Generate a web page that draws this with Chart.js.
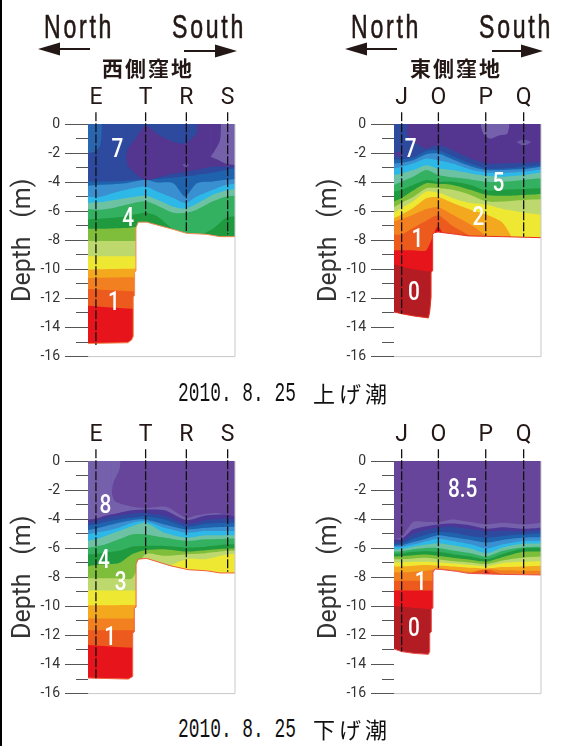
<!DOCTYPE html>
<html lang="ja">
<head>
<meta charset="utf-8">
<title>2010.8.25</title>
<script src="https://cdn.jsdelivr.net/npm/chart.js@4/dist/chart.umd.min.js"></script>
<style>
    html, body { margin: 0; padding: 0; background: #fff; }
    #page { position: relative; width: 561px; height: 746px; overflow: hidden; background: #fff; }
    #page canvas { position: absolute; }
    #edge { position: absolute; left: 0; top: 0; width: 2px; height: 746px; background: #000; }
    .dir { position: absolute; top: 7px; font: 34px "Liberation Sans", sans-serif; letter-spacing: 4px; color: #231815; -webkit-text-stroke: 0.6px #231815; white-space: pre; transform: scaleX(0.68); transform-origin: left center; }
    .basin { position: absolute; top: 52px; font: 700 21px "Noto Sans CJK JP", sans-serif; letter-spacing: 2px; color: #231815; white-space: pre; }
    .date { position: absolute; left: 178px; font: 27px "Liberation Mono", monospace; color: #111; white-space: pre; transform: scaleX(0.662); transform-origin: left center; }
    .tide { position: absolute; left: 313px; font: 22px "Noto Sans CJK JP", sans-serif; letter-spacing: 4px; color: #111; white-space: pre; }
    svg { position: absolute; left: 0; top: 0; }
</style>
</head>
<body>
<div id="page">
    <div id="edge"></div>
    <canvas id="westFlood" width="255" height="370" style="left:0;top:0"></canvas>
    <canvas id="eastFlood" width="255" height="370" style="left:306px;top:0"></canvas>
    <canvas id="westEbb" width="255" height="370" style="left:0;top:337px"></canvas>
    <canvas id="eastEbb" width="255" height="370" style="left:306px;top:337px"></canvas>
    <div class="dir" style="left:44px">North</div>
    <div class="dir" style="left:172px">South</div>
    <div class="dir" style="left:351px">North</div>
    <div class="dir" style="left:479px">South</div>
    <div class="basin" style="left:102px">西側窪地</div>
    <div class="basin" style="left:410px">東側窪地</div>
    <div class="date" style="top:379px">2010. 8. 25</div>
    <div class="tide" style="top:376px">上げ潮</div>
    <div class="date" style="top:715px">2010. 8. 25</div>
    <div class="tide" style="top:712px">下げ潮</div>
    <svg width="561" height="80" fill="#231815" stroke="#231815">
        <path d="M56 49H90" stroke-width="2"/><path d="M38 49L60 42.5V55.5Z" stroke="none"/>
        <path d="M184 51H220" stroke-width="2"/><path d="M237 51L215 44.5V57.5Z" stroke="none"/>
        <path d="M363 49H397" stroke-width="2"/><path d="M345 49L367 42.5V55.5Z" stroke="none"/>
        <path d="M492 51H528" stroke-width="2"/><path d="M543 51L521 44.5V57.5Z" stroke="none"/>
    </svg>
</div>
<script>
// colours of the salinity bands
const dkRed = '#b41c24', red = '#e8141c', orRed = '#ec5a1e', orange = '#f28020', ltOrange = '#f4a81e';
const yellow = '#efe832', yelGreen = '#bdd96e', green = '#7fbe3a', dkGreen = '#1f9a3e', medGreen = '#33b060';
const teal = '#6dc2a4', cyan = '#2db8e8', blue = '#3a8fd0', midBlue = '#1f62ae', navy = '#2d4a9e';
const indigo = '#4c3796', purple = '#54358f', violet = '#66459a', ltViolet = '#7460ab', oval = '#6a55a5';

const westStations = ['E', 'T', 'R', 'S'];
const westStationX = [5.4, 39.2, 66.9, 95];
const eastStations = ['J', 'O', 'P', 'Q'];
const eastStationX = [5.2, 30.2, 62.4, 88.2];
const bottomLine = [-16, -16];
const endX = [0, 100];

// west basin, flood tide
const p1X = [0, 8, 17, 26, 39, 47, 58, 66, 74, 85, 94, 100];
const p1DeepX = [0, 30, 100];
const p1OrRed = [-12.5, -12.7, -12.7];
const p1Orange = [-11.35, -11.5, -11.5];
const p1LtOrange = [-10.6, -10.55, -10.55];
const p1Yellow = [-10, -9.95, -9.95];
const p1YelGreen = [-9.1, -9.1, -9.1];
const p1Green = [-8.05, -8.05, -8.05];
const p1DkGreen = [-7.2, -7.2, -7.18, -7.15, -7.15, -9, -9, -9, -9, -9, -9, -9];
const p1MedGreen = [-6.57, -6.52, -6.45, -6.34, -6.1, -6.34, -7.25, -7.6, -7.7, -7.2, -6.45, -6.34];
const p1Teal = [-5.84, -5.89, -5.77, -5.55, -5.32, -5.61, -6.11, -6.11, -5.89, -5.32, -4.98, -4.93];
const p1Cyan = [-5.43, -5.39, -5.25, -5.09, -4.93, -5.2, -5.7, -5.82, -5.48, -4.86, -4.57, -4.48];
const p1Blue = [-4.98, -5.02, -4.75, -4.52, -4.3, -4.64, -5.09, -5.43, -4.98, -4.52, -4.18, -4.11];
const p1MidBlue = [-4.25, -4.18, -4.14, -4.07, -3.84, -4.02, -4.07, -4.98, -4.07, -3.95, -3.84, -3.8];
const p1Navy = [-3.95, -3.95, -3.95, -3.9, -3.84, -3.77, -3.68, -3.61, -3.5, -3.34, -3.16, -3.05];
const p1CornerX = [0, 4.8, 8, 9.3, 9.4];
const p1Corner = [-2, -1.9, -1.55, -0.7, 0];
const p1PurpleX = [25.9, 27.4, 39.2, 53.5, 76.2, 85.3, 100];
const p1Purple = [-2.25, -2.93, -3.84, -3.5, -3.11, -2.93, -2.93];
const p1DomeX = [25.9, 27.4, 33.1, 39.2, 46.7, 58, 66, 73.9, 74.5];
const p1Dome = [-2.25, -1.68, -0.89, -0.09, -0.66, -1.23, -1.34, -0.66, 0];
const p1PaleX = [83.4, 87.5, 94.3, 100];
const p1Pale = [-2.25, -2.43, -2.75, -2.82];
const p1PaleEdgeX = [83.4, 86.4, 89.8, 90.5];
const p1PaleEdge = [-2.25, -1.8, -1.11, 0];
const p1OvalX = [64, 66.5, 69];
const p1OvalTop = [-2.82, -2.7, -2.82];
const p1OvalBottom = [-2.82, -2.95, -2.82];
const p1FloorX = [0, 27, 29.7, 30.8, 30.8, 31.7, 31.7, 32.6, 32.6, 34.2, 39.9, 58, 67, 80.7, 89.8, 100];
const p1Floor = [-15.1, -15.05, -14.86, -14.6, -11.9, -11.8, -10.2, -10.1, -7.14, -6.75, -6.75, -7.25, -7.52, -7.59, -7.75, -7.75];
const p1StationEnd = [-15.2, -6.3, -7.36, -7.59];
const p1LabelText = ['7', '4', '1'];
const p1LabelX = [20, 27.4, 17.7];
const p1LabelY = [-1.84, -6.57, -12.36];

// east basin, flood tide
const p2X = [0, 5, 13, 22, 30, 40, 52, 63, 74, 88, 100];
const p2DeepX = [0, 13, 26, 100];
const p2Red = [-9.64, -9.98, -10.16, -10.2];
const p2OrRed = [-8.68, -8.68, -8.68, -8.68, -7.05, -9, -9, -9, -9, -9, -9];
const p2Orange = [-7.6, -7.6, -7.15, -6.65, -6.28, -7.03, -7.72, -9, -9, -9, -9];
const p2LtOrange = [-6.69, -6.53, -6.24, -5.85, -5.72, -6.24, -6.92, -7.75, -9, -9, -9];
const p2Yellow = [-6.47, -6.24, -5.78, -5.1, -5.03, -5.44, -5.9, -6.24, -6.81, -9, -9];
const p2YelGreen = [-6.13, -5.78, -5.33, -4.65, -4.72, -5.1, -5.44, -5.56, -5.85, -6.08, -6.24];
const p2Green = [-5.72, -5.44, -5.03, -4.42, -4.42, -4.53, -4.88, -5.33, -5.33, -5.22, -5.17];
const p2DkGreen = [-5.33, -5.1, -4.58, -4.08, -4.13, -4.19, -4.53, -4.88, -4.94, -4.88, -4.81];
const p2MedGreen = [-4.65, -4.53, -4.19, -3.85, -3.97, -3.97, -4.19, -4.58, -4.53, -4.47, -4.42];
const p2Teal = [-4.19, -3.97, -3.63, -3.17, -3.51, -3.67, -3.81, -3.97, -3.97, -3.85, -3.74];
const p2Cyan = [-3.51, -3.4, -3.17, -2.83, -3.06, -3.17, -3.4, -3.56, -3.63, -3.51, -3.33];
const p2Blue = [-3.06, -2.94, -2.72, -2.38, -2.49, -2.72, -3.13, -3.33, -3.35, -3.28, -3.13];
const p2MidBlue = [-2.72, -2.67, -2.49, -2.08, -2.03, -2.44, -2.9, -3.17, -3.17, -3.1, -2.94];
const p2Navy = [-2.44, -2.44, -2.31, -1.85, -1.81, -2.22, -2.72, -3.06, -3.06, -2.94, -2.83];
const p2PurpleX = [8.6, 10.9, 15.4, 22, 30, 40, 52, 63, 74, 88, 100];
const p2Purple = [-0.67, -1.01, -1.35, -1.69, -1.47, -1.81, -2.38, -2.72, -2.72, -2.67, -2.6];
const p2PaleX = [59, 60.8, 65.3, 72, 77, 78.5];
const p2Pale = [-0.1, -0.67, -1.01, -0.78, -0.67, -0.1];
const p2SliverX = [0, 3, 6];
const p2SliverTop = [-2, -1.9, -2.1];
const p2SliverBottom = [-2, -2.25, -2.1];
const p2OvalX = [83, 88.4, 93.7];
const p2OvalTop = [-1.24, -1.08, -1.24];
const p2OvalBottom = [-1.24, -1.47, -1.24];
const p2FloorX = [0, 5.2, 13.2, 23.4, 24.3, 25.2, 25.2, 26.3, 26.3, 27.2, 30, 42.6, 50.6, 74, 100];
const p2Floor = [-12.93, -13.05, -13.2, -13.34, -12.9, -11.9, -10.2, -10.1, -7.6, -7.48, -7.43, -7.59, -7.7, -7.75, -7.82];
const p2StationEnd = [-13.05, -7.36, -7.7, -7.75];
const p2LabelText = ['7', '5', '2', '1', '0'];
const p2LabelX = [11.3, 71, 57.4, 15.9, 13.6];
const p2LabelY = [-1.84, -4.18, -6.52, -7.98, -11.68];

// west basin, ebb tide
const p3X = [0, 5, 12, 21, 30, 39, 52, 67, 80, 95, 100];
const p3DeepX = [0, 30, 100];
const p3OrRed = [-12.66, -12.85, -12.85];
const p3Orange = [-11.64, -11.64, -11.64];
const p3LtOrange = [-10.84, -10.84, -10.84];
const p3Yellow = [-9.93, -9.9, -9.9];
const p3YelGreen = [-8.91, -8.91, -8.91, -8.91, -8.91, -8.8, -7.43, -6.75, -6.75, -6.41, -6.41];
const p3Green = [-8.07, -8.07, -8.07, -8.07, -8.07, -6.41, -6.52, -6.41, -6.34, -6.18, -6.18];
const p3DkGreen = [-7.25, -7.16, -7.11, -7.02, -6.41, -6.14, -6.07, -6.23, -6.14, -6.02, -6.02];
const p3MedGreen = [-6.41, -6.41, -6.3, -6.18, -5.89, -5.84, -5.84, -5.95, -5.89, -5.73, -5.73];
const p3Teal = [-5.95, -5.89, -5.73, -5.39, -5.05, -5.05, -5.27, -5.5, -5.39, -5.34, -5.34];
const p3Cyan = [-5.5, -5.39, -5.16, -4.82, -4.48, -4.25, -4.93, -5.27, -5.11, -5.11, -5.11];
const p3Blue = [-5.05, -4.93, -4.82, -4.59, -4.25, -4.14, -4.59, -4.93, -4.82, -4.82, -4.82];
const p3MidBlue = [-4.75, -4.66, -4.48, -4.25, -4.07, -4.02, -4.36, -4.7, -4.59, -4.52, -4.52];
const p3Navy = [-4.43, -4.36, -4.18, -4.02, -3.91, -3.8, -4.02, -4.52, -4.32, -4.25, -4.25];
const p3Indigo = [-4.25, -4.14, -3.91, -3.75, -3.61, -3.57, -3.75, -4.32, -4.07, -3.98, -4.02];
const p3Pale = [-4.02, -3.98, -3.75, -3.57, -3.39, -3.34, -3.39, -4.07, -3.75, -3.68, -3.75];
const p3VioletX = [16.1, 18.4, 28.6, 39.2, 53.5, 66.9, 73.9, 87.5, 100];
const p3Violet = [-2.2, -2.77, -3.11, -3.23, -3.16, -3.91, -3.73, -3.57, -3.8];
const p3PaleEdgeX = [16.1, 17.2, 21.3, 22.2];
const p3PaleEdge = [-2.2, -1.52, -0.61, 0];
const p3FloorX = [0, 27.4, 30.4, 30.4, 31.5, 31.5, 32.7, 32.7, 34.2, 39.9, 55.8, 68.3, 80.7, 89.8, 100];
const p3Floor = [-14.93, -15, -14.82, -11.86, -11.75, -10.11, -10.05, -7.09, -6.75, -6.7, -7.2, -7.48, -7.55, -7.7, -7.7];
const p3StationEnd = [-15, -6.41, -7.36, -7.61];
const p3LabelText = ['8', '4', '3', '1'];
const p3LabelX = [11.8, 10.9, 22.2, 15];
const p3LabelY = [-3.11, -6.91, -8.45, -12.2];

// east basin, ebb tide
const p4X = [0, 5, 13, 22, 30, 40, 52, 63, 74, 88, 100];
const p4DeepX = [0, 13, 26, 100];
const p4Red = [-9.98, -10.1, -10.2, -10.2];
const p4OrRed = [-8.91, -8.91, -8.91, -8.91, -8.91, -9.02, -9.02, -7.59, -9.02, -9.02, -9.02];
const p4Orange = [-8.23, -8.23, -8.23, -8.23, -8.23, -8.23, -7.73, -7.48, -7.82, -8.57, -8.57];
const p4LtOrange = [-7.66, -7.66, -7.61, -7.55, -7.39, -7.48, -7.61, -7.43, -7.52, -7.55, -7.55];
const p4Yellow = [-7.25, -7.25, -7.2, -7.16, -7.2, -7.25, -7.34, -7.39, -7.3, -7.25, -7.2];
const p4YelGreen = [-6.98, -6.98, -6.93, -6.93, -6.98, -7.05, -7.16, -7.25, -7.02, -6.93, -6.89];
const p4Green = [-6.75, -6.75, -6.7, -6.66, -6.75, -6.89, -6.98, -7.09, -6.84, -6.64, -6.57];
const p4DkGreen = [-6.57, -6.55, -6.48, -6.43, -6.52, -6.66, -6.8, -6.93, -6.61, -6.25, -6.23];
const p4MedGreen = [-6.39, -6.36, -6.25, -6.2, -6.25, -6.41, -6.57, -6.75, -6.39, -6.02, -5.98];
const p4Teal = [-6.23, -6.2, -6.07, -5.98, -5.98, -6.16, -6.34, -6.57, -6.18, -5.93, -5.89];
const p4Cyan = [-6.07, -6.05, -5.89, -5.75, -5.66, -5.8, -6.02, -6.34, -5.95, -5.7, -5.68];
const p4Blue = [-5.93, -5.91, -5.75, -5.52, -5.34, -5.5, -5.73, -6.02, -5.73, -5.5, -5.48];
const p4MidBlue = [-5.84, -5.8, -5.57, -5.34, -5.11, -5.25, -5.43, -5.61, -5.43, -5.27, -5.25];
const p4Navy = [-5.75, -5.7, -5.34, -5.07, -4.89, -4.93, -5.16, -5.27, -5.16, -5.02, -4.98];
const p4Indigo = [-5.57, -5.52, -5.02, -4.75, -4.59, -4.52, -4.7, -4.84, -4.8, -4.84, -4.75];
const p4Pale = [-5.39, -5.39, -4.7, -4.48, -4.36, -4.3, -4.43, -4.66, -4.55, -4.66, -4.59];
const p4Violet = [-5.34, -5.27, -4.2, -4.2, -4.2, -4.02, -4.2, -4.36, -4.25, -4.36, -4.25];
const p4FloorX = [0, 5.2, 13.2, 23.4, 24.3, 24.3, 25.4, 25.4, 26.5, 26.5, 27.9, 33.6, 42.6, 50.6, 74, 100];
const p4Floor = [-12.93, -13.11, -13.23, -13.3, -13.1, -11.86, -11.75, -10.2, -10.11, -7.66, -7.43, -7.48, -7.59, -7.73, -7.8, -7.84];
const p4StationEnd = [-13.1, -7.43, -7.7, -7.77];
const p4LabelText = ['8.5', '1', '0'];
const p4LabelX = [46.7, 18.1, 13.6];
const p4LabelY = [-2.05, -8.45, -11.57];

function toPoints(xs, ys) {
    return xs.map((x, i) => ({ x: x, y: ys[i] }));
}

// every band fills from its lower edge up to the surface, deepest first
function band(xs, ys, color) {
    return { data: toPoints(xs, ys), fill: 'end', backgroundColor: color, borderWidth: 0, pointRadius: 0, tension: 0.25 };
}

function lens(xs, top, bottom, color) {
    return [
        { data: toPoints(xs, top), fill: '+1', backgroundColor: color, borderWidth: 0, pointRadius: 0, tension: 0.4 },
        { data: toPoints(xs, bottom), fill: false, borderWidth: 0, pointRadius: 0, tension: 0.4 }
    ];
}

function createPanel(id, opts) {
    const stationSets = opts.stationX.map((x, i) => ({
        data: [{ x: x, y: 0.8 }, { x: x, y: opts.stationEnd[i] }],
        fill: false, borderColor: '#111', borderWidth: 1.3, borderDash: [9, 2], pointRadius: 0, clip: false
    }));
    const datasets = [
        ...opts.bands,
        // white ground below the sea floor, with its thin outline
        { data: toPoints(opts.floorX, opts.floor), fill: 'start', backgroundColor: '#fff', borderColor: opts.floorColor, borderWidth: 1, pointRadius: 0, tension: 0 },
        { data: toPoints([0, 100, 100], [-16, -16, 0]), fill: false, borderColor: '#c9c9c9', borderWidth: 1, pointRadius: 0, clip: false },
        ...stationSets
    ];
    datasets.forEach((d, i) => { d.order = datasets.length - i; });

    const valueLabels = {
        id: 'valueLabels',
        afterDatasetsDraw(chart) {
            const { ctx, scales } = chart;
            ctx.fillStyle = '#fff';
            ctx.font = '500 26px Roboto, sans-serif';
            ctx.textAlign = 'center';
            ctx.textBaseline = 'middle';
            opts.labelText.forEach((t, i) => {
                ctx.save();
                ctx.translate(scales.x.getPixelForValue(opts.labelX[i]), scales.y.getPixelForValue(opts.labelY[i]));
                ctx.scale(0.8, 1);
                ctx.fillText(t, 0, 0);
                ctx.restore();
            });
        }
    };

    return new Chart(document.getElementById(id), {
        type: 'line',
        data: { datasets: datasets },
        plugins: [valueLabels],
        options: {
            responsive: false,
            animation: false,
            events: [],
            layout: { padding: { left: 0, right: 20, top: 0, bottom: 12 } },
            plugins: { legend: { display: false }, tooltip: { enabled: false } },
            scales: {
                x: {
                    type: 'linear',
                    position: 'top',
                    min: 0,
                    max: 100,
                    afterFit: s => { s.height = 124; },
                    afterBuildTicks: s => { s.ticks = opts.stationX.map(v => ({ value: v })); },
                    grid: { display: false },
                    border: { display: false },
                    ticks: {
                        autoSkip: false,
                        maxRotation: 0,
                        padding: 4,
                        color: '#231815',
                        font: { family: 'Roboto', size: 23 },
                        callback: v => opts.stations[opts.stationX.indexOf(v)]
                    }
                },
                y: {
                    min: -16,
                    max: 0,
                    afterFit: s => { s.width = 88; },
                    grid: { drawOnChartArea: false, tickLength: 23, color: '#555' },
                    border: { color: '#555' },
                    title: {
                        display: true,
                        text: 'Depth   (m)',
                        color: '#333',
                        font: { family: 'Roboto', size: 25 },
                        padding: { top: 9, bottom: 0 }
                    },
                    ticks: {
                        stepSize: 2,
                        padding: 5,
                        color: '#333',
                        font: { family: 'Roboto', size: 14 },
                        callback: v => String(v)
                    }
                },
                // short unlabelled marks at every metre
                minor: {
                    axis: 'y',
                    min: -16,
                    max: 0,
                    position: { x: 0 },
                    grid: { drawOnChartArea: false, tickLength: 12, color: '#555' },
                    border: { display: false },
                    ticks: { stepSize: 1, display: false }
                }
            }
        }
    });
}

createPanel('westFlood', {
    stations: westStations, stationX: westStationX, stationEnd: p1StationEnd,
    floorX: p1FloorX, floor: p1Floor, floorColor: '#f08a50',
    labelText: p1LabelText, labelX: p1LabelX, labelY: p1LabelY,
    bands: [
        band(endX, bottomLine, red),
        band(p1DeepX, p1OrRed, orRed),
        band(p1DeepX, p1Orange, orange),
        band(p1DeepX, p1LtOrange, ltOrange),
        band(p1DeepX, p1Yellow, yellow),
        band(p1DeepX, p1YelGreen, yelGreen),
        band(p1DeepX, p1Green, green),
        band(p1X, p1DkGreen, dkGreen),
        band(p1X, p1MedGreen, medGreen),
        band(p1X, p1Teal, teal),
        band(p1X, p1Cyan, cyan),
        band(p1X, p1Blue, blue),
        band(p1X, p1MidBlue, midBlue),
        band(p1X, p1Navy, navy),
        band(p1CornerX, p1Corner, '#2a66b0'),
        band(p1PurpleX, p1Purple, purple),
        band(p1DomeX, p1Dome, navy),
        band(p1PaleX, p1Pale, ltViolet),
        band(p1PaleEdgeX, p1PaleEdge, purple),
        ...lens(p1OvalX, p1OvalTop, p1OvalBottom, oval)
    ]
});

createPanel('eastFlood', {
    stations: eastStations, stationX: eastStationX, stationEnd: p2StationEnd,
    floorX: p2FloorX, floor: p2Floor, floorColor: '#e83020',
    labelText: p2LabelText, labelX: p2LabelX, labelY: p2LabelY,
    bands: [
        band(endX, bottomLine, dkRed),
        band(p2DeepX, p2Red, red),
        band(p2X, p2OrRed, orRed),
        band(p2X, p2Orange, orange),
        band(p2X, p2LtOrange, ltOrange),
        band(p2X, p2Yellow, yellow),
        band(p2X, p2YelGreen, yelGreen),
        band(p2X, p2Green, green),
        band(p2X, p2DkGreen, dkGreen),
        band(p2X, p2MedGreen, medGreen),
        band(p2X, p2Teal, teal),
        band(p2X, p2Cyan, cyan),
        band(p2X, p2Blue, blue),
        band(p2X, p2MidBlue, midBlue),
        band(p2X, p2Navy, navy),
        band(p2PurpleX, p2Purple, purple),
        band(p2PaleX, p2Pale, ltViolet),
        ...lens(p2SliverX, p2SliverTop, p2SliverBottom, purple),
        ...lens(p2OvalX, p2OvalTop, p2OvalBottom, oval)
    ]
});

createPanel('westEbb', {
    stations: westStations, stationX: westStationX, stationEnd: p3StationEnd,
    floorX: p3FloorX, floor: p3Floor, floorColor: '#f0603a',
    labelText: p3LabelText, labelX: p3LabelX, labelY: p3LabelY,
    bands: [
        band(endX, bottomLine, red),
        band(p3DeepX, p3OrRed, orRed),
        band(p3DeepX, p3Orange, orange),
        band(p3DeepX, p3LtOrange, ltOrange),
        band(p3DeepX, p3Yellow, yellow),
        band(p3X, p3YelGreen, yelGreen),
        band(p3X, p3Green, green),
        band(p3X, p3DkGreen, dkGreen),
        band(p3X, p3MedGreen, medGreen),
        band(p3X, p3Teal, teal),
        band(p3X, p3Cyan, cyan),
        band(p3X, p3Blue, blue),
        band(p3X, p3MidBlue, midBlue),
        band(p3X, p3Navy, navy),
        band(p3X, p3Indigo, indigo),
        band(p3X, p3Pale, ltViolet),
        band(p3VioletX, p3Violet, violet),
        band(p3PaleEdgeX, p3PaleEdge, ltViolet)
    ]
});

createPanel('eastEbb', {
    stations: eastStations, stationX: eastStationX, stationEnd: p4StationEnd,
    floorX: p4FloorX, floor: p4Floor, floorColor: '#e8504a',
    labelText: p4LabelText, labelX: p4LabelX, labelY: p4LabelY,
    bands: [
        band(endX, bottomLine, dkRed),
        band(p4DeepX, p4Red, red),
        band(p4X, p4OrRed, orRed),
        band(p4X, p4Orange, orange),
        band(p4X, p4LtOrange, ltOrange),
        band(p4X, p4Yellow, yellow),
        band(p4X, p4YelGreen, yelGreen),
        band(p4X, p4Green, green),
        band(p4X, p4DkGreen, dkGreen),
        band(p4X, p4MedGreen, medGreen),
        band(p4X, p4Teal, teal),
        band(p4X, p4Cyan, cyan),
        band(p4X, p4Blue, blue),
        band(p4X, p4MidBlue, midBlue),
        band(p4X, p4Navy, navy),
        band(p4X, p4Indigo, indigo),
        band(p4X, p4Pale, ltViolet),
        band(p4X, p4Violet, violet)
    ]
});
</script>
</body>
</html>
